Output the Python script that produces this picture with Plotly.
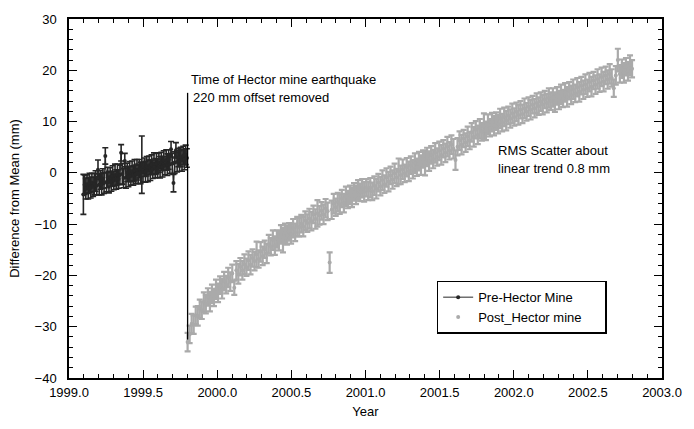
import plotly.graph_objects as go

# ---------------- data ----------------
# sampling of the GPS solutions (decimal years)
pre_start, pre_step, pre_n = 1999.097, 3 / 365.25, 86
post_start, post_step, post_n = 1999.800, 5 / 365.25, 220

pre_values = [
    -4.2, -2.3, -3.1, -2.2, -3.0, -2.0, -2.9, -1.9, -2.7, -2.2,
    -1.6, -2.5, 0.6, -2.3, -1.4, -2.2, -1.1, -2.0, 3.3, -1.8,
    -0.9, -1.8, -0.8, -1.7, -0.6, -1.5, -0.4, -1.3, -0.3, -1.2,
    -0.4, 3.9, -0.2, -1.0, 2.3, -0.9, 0.1, -0.7, 0.3, -0.6,
    0.3, -0.5, 0.5, -0.3, 0.6, -0.2, 0.8, 0.0, 1.6, 0.1,
    1.1, 0.2, 1.3, 0.4, 1.5, 0.5, 1.6, 0.7, 1.8, 0.9,
    1.8, 0.9, 2.0, 1.1, 2.2, 1.2, 2.4, 1.4, 2.5, 1.6,
    2.6, 1.7, 4.6, 1.8, -2.0, 2.0, 4.4, 2.1, 3.0, 2.3,
    3.1, 2.4, 3.4, 2.6, 3.5, 2.9,
]
pre_errors = [
    3.9, 1.9, 2.0, 1.8, 2.1, 1.9, 2.0, 1.8, 1.9, 2.1,
    2.0, 1.8, 1.9, 2.0, 1.8, 2.1, 1.9, 2.0, 1.6, 1.9,
    2.0, 2.1, 1.8, 1.9, 2.0, 1.8, 2.1, 1.9, 2.0, 1.8,
    1.9, 1.6, 2.0, 1.9, 1.5, 2.1, 1.8, 2.0, 1.9, 1.8,
    2.0, 1.9, 2.1, 1.8, 2.0, 1.9, 1.8, 2.1, 5.6, 1.9,
    1.8, 2.0, 1.9, 2.1, 1.8, 2.0, 1.9, 1.8, 2.1, 1.9,
    2.0, 1.8, 1.9, 2.1, 1.8, 2.0, 1.9, 1.8, 2.0, 2.1,
    1.9, 1.8, 1.5, 2.0, 1.7, 2.1, 1.5, 1.9, 1.8, 2.0,
    1.9, 2.1, 1.8, 2.0, 1.9, 1.8,
]

post_values = [
    -33.0, -31.5, -29.4, -29.6, -27.8, -27.9, -26.5, -26.8, -25.2, -25.6,
    -24.2, -25.1, -23.6, -24.3, -22.7, -23.4, -21.9, -22.6, -21.1, -21.8,
    -20.4, -21.2, -19.6, -22.4, -19.0, -19.7, -18.3, -19.0, -17.8, -18.4,
    -17.1, -17.9, -16.6, -17.2, -15.9, -16.8, -15.4, -16.2, -14.9, -15.7,
    -13.9, -14.4, -13.1, -14.2, -12.9, -13.2, -12.0, -13.1, -11.8, -12.2,
    -11.5, -11.9, -10.8, -11.6, -10.5, -10.6, -9.9, -10.5, -9.3, -9.8,
    -8.9, -9.4, -8.1, -9.0, -7.9, -8.3, -7.4, -8.1, -6.9, -7.5,
    -17.5, -7.2, -6.0, -6.7, -5.7, -6.1, -5.0, -5.9, -4.6, -5.2,
    -4.3, -4.8, -3.7, -4.3, -3.3, -3.8, -3.0, -3.7, -2.9, -3.5,
    -2.9, -3.6, -2.5, -3.1, -1.9, -2.6, -1.4, -2.2, -0.9, -1.7,
    -0.5, -1.3, -0.1, -0.9, 0.3, -0.4, 0.7, -0.1, 1.1, 0.3,
    1.5, 0.7, 1.9, 1.1, 2.3, 1.5, 2.7, 1.9, 3.1, 2.3,
    3.5, 2.7, 3.9, 3.1, 4.3, 3.5, 4.7, 3.9, 5.1, 4.3,
    5.5, 4.7, 2.5, 5.1, 6.3, 5.5, 6.7, 5.9, 7.1, 6.3,
    7.9, 7.0, 8.4, 7.4, 8.6, 8.0, 9.1, 8.2, 9.5, 8.8,
    9.9, 9.2, 10.1, 9.5, 10.6, 9.8, 10.9, 10.2, 11.2, 10.6,
    11.6, 10.9, 11.9, 11.3, 12.3, 11.5, 12.6, 11.9, 12.9, 12.3,
    13.3, 12.6, 13.6, 13.0, 13.9, 13.3, 14.3, 13.6, 14.6, 14.0,
    14.7, 13.8, 15.0, 14.2, 15.3, 14.5, 15.7, 14.8, 16.0, 15.2,
    16.3, 15.5, 16.7, 15.8, 17.0, 16.2, 17.3, 16.5, 17.7, 16.8,
    18.0, 17.2, 18.3, 17.5, 18.7, 17.8, 19.0, 18.2, 19.3, 18.5,
    16.5, 19.0, 22.0, 19.3, 20.3, 19.5, 20.7, 19.8, 21.0, 20.3,
]
post_errors = [
    1.8, 1.7, 1.9, 1.8, 1.7, 1.9, 1.8, 1.7, 1.9, 1.8,
    1.7, 1.9, 1.8, 1.7, 1.9, 1.8, 1.7, 1.9, 1.8, 1.7,
    1.9, 1.8, 1.7, 1.4, 1.8, 1.9, 1.7, 1.8, 1.9, 1.7,
    1.8, 1.9, 1.7, 1.8, 2.5, 1.7, 1.9, 1.8, 1.7, 1.9,
    1.8, 1.7, 1.9, 1.8, 1.7, 1.9, 1.8, 2.4, 1.9, 1.8,
    1.7, 1.9, 1.8, 1.7, 1.9, 1.8, 1.7, 1.9, 1.8, 1.7,
    1.9, 1.8, 1.7, 1.9, 2.6, 1.8, 1.7, 1.9, 1.8, 1.7,
    2.0, 1.8, 1.9, 1.7, 1.8, 1.9, 1.7, 1.8, 1.9, 1.7,
    1.8, 1.9, 1.7, 1.8, 1.9, 1.7, 1.8, 1.9, 1.7, 1.8,
    1.9, 1.7, 1.8, 1.9, 1.7, 1.8, 1.9, 1.7, 1.8, 1.9,
    1.7, 1.8, 1.9, 1.7, 2.5, 1.8, 1.9, 1.7, 1.8, 1.9,
    1.7, 1.8, 1.9, 1.7, 1.8, 1.9, 1.7, 2.4, 1.8, 1.9,
    1.7, 1.8, 1.9, 1.7, 1.8, 1.9, 1.7, 1.8, 1.9, 1.7,
    1.8, 1.9, 1.9, 1.7, 1.8, 1.9, 1.7, 1.8, 1.9, 1.7,
    1.8, 1.9, 1.7, 1.8, 1.9, 1.7, 2.5, 1.8, 1.9, 1.7,
    1.8, 1.9, 1.7, 1.8, 1.9, 1.7, 1.8, 1.9, 1.7, 1.8,
    1.9, 1.7, 1.8, 1.9, 1.7, 1.8, 1.9, 1.7, 1.8, 1.9,
    1.7, 1.8, 1.9, 1.7, 1.8, 1.9, 1.7, 1.8, 1.9, 1.7,
    1.8, 1.9, 1.7, 1.8, 1.9, 1.7, 1.8, 1.9, 1.7, 1.8,
    1.9, 1.7, 1.8, 1.9, 1.7, 1.8, 1.9, 1.7, 1.8, 1.9,
    1.7, 1.8, 1.9, 1.7, 1.8, 1.9, 1.7, 1.8, 1.9, 1.7,
    1.7, 1.8, 2.2, 1.7, 1.8, 1.9, 1.7, 1.8, 1.9, 1.7,
]

pre_t = [pre_start + i * pre_step for i in range(pre_n)]
post_t = [post_start + i * post_step for i in range(post_n)]

quake_year = 1999.80
quake_line_range = [-32.5, 15.6]

x_range = [1999.0, 2003.0]
y_range = [-40, 30]

FONT = "Liberation Sans, Arial, Helvetica, sans-serif"
PRE_COLOR = "#262626"
POST_COLOR = "#aaaaaa"
PAD = "\u00a0" * 5

fig = go.Figure()

fig.add_trace(go.Scatter(
    x=pre_t, y=pre_values, mode="lines+markers",
    name="Pre-Hector Mine" + PAD,
    line=dict(color=PRE_COLOR, width=1),
    marker=dict(color=PRE_COLOR, size=4),
    error_y=dict(type="data", array=pre_errors, color=PRE_COLOR,
                 thickness=1.6, width=3),
))
fig.add_trace(go.Scatter(
    x=post_t, y=post_values, mode="markers",
    name="Post_Hector mine" + PAD,
    marker=dict(color=POST_COLOR, size=4),
    error_y=dict(type="data", array=post_errors, color=POST_COLOR,
                 thickness=2.2, width=3),
))

# earthquake marker line
fig.add_shape(type="line", xref="x", yref="y",
              x0=quake_year, x1=quake_year,
              y0=quake_line_range[0], y1=quake_line_range[1],
              line=dict(color="black", width=1.3), layer="above")

# legend shadow (offset box behind the legend)
fig.add_shape(type="rect", xref="paper", yref="paper",
              x0=0.625, x1=0.901, y0=0.136, y1=0.262,
              fillcolor="black", line=dict(width=0), layer="above")

fig.add_annotation(x=1999.81, y=18.3, xref="x", yref="y",
                   text="Time of Hector mine earthquake", showarrow=False,
                   xanchor="left", yanchor="middle",
                   font=dict(family=FONT, size=13, color="black"))
fig.add_annotation(x=1999.82, y=14.6, xref="x", yref="y",
                   text="220 mm offset removed", showarrow=False,
                   xanchor="left", yanchor="middle",
                   font=dict(family=FONT, size=13, color="black"))
fig.add_annotation(x=2001.88, y=4.3, xref="x", yref="y",
                   text="RMS Scatter about", showarrow=False,
                   xanchor="left", yanchor="middle",
                   font=dict(family=FONT, size=13, color="black"))
fig.add_annotation(x=2001.88, y=0.85, xref="x", yref="y",
                   text="linear trend 0.8 mm", showarrow=False,
                   xanchor="left", yanchor="middle",
                   font=dict(family=FONT, size=13, color="black"))

axis_common = dict(
    showgrid=False, zeroline=False, showline=True, linecolor="black",
    linewidth=1.5, mirror="ticks", ticks="inside", ticklen=8,
    tickwidth=1.2, tickcolor="black",
    tickfont=dict(family=FONT, size=13, color="black"),
)

fig.update_layout(
    width=694, height=429,
    margin=dict(l=69, r=27, t=14, b=50),
    paper_bgcolor="white", plot_bgcolor="white",
    font=dict(family=FONT, size=13, color="black"),
    xaxis=dict(range=x_range, dtick=0.5, tick0=1999.0, tickformat=".1f",
               ticklabelstandoff=2,
               title=dict(text="Year", font=dict(family=FONT, size=13),
                          standoff=8),
               minor=dict(dtick=0.1, ticks="inside", ticklen=4,
                          tickcolor="black", tickwidth=1),
               **axis_common),
    yaxis=dict(range=y_range, dtick=10, tick0=0,
               ticklabelstandoff=8,
               title=dict(text="Difference from Mean (mm)",
                          font=dict(family=FONT, size=13), standoff=12),
               minor=dict(dtick=2, ticks="inside", ticklen=4,
                          tickcolor="black", tickwidth=1),
               **axis_common),
    showlegend=True,
    legend=dict(x=0.62, y=0.271, xanchor="left", yanchor="top",
                bgcolor="white", bordercolor="black", borderwidth=1.5,
                font=dict(family=FONT, size=13),
                tracegroupgap=0, itemsizing="trace"),
)

fig.write_html("out.html")
